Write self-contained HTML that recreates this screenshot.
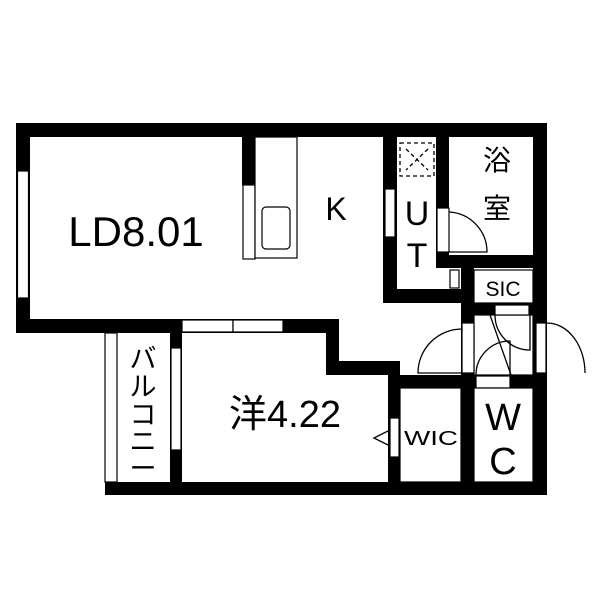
<!DOCTYPE html>
<html><head><meta charset="utf-8"><style>
html,body{margin:0;padding:0;background:#fff;width:600px;height:600px;overflow:hidden}
svg{display:block}
text{font-family:"Liberation Sans","Noto Sans CJK JP",sans-serif;fill:#000}
</style></head><body>
<svg width="600" height="600" viewBox="0 0 600 600" xmlns="http://www.w3.org/2000/svg">
<g fill="#000">
<rect x="16" y="123" width="531" height="14"/>
<rect x="16" y="123" width="14" height="210"/>
<rect x="16" y="319" width="323" height="14"/>
<rect x="326" y="319" width="13" height="56"/>
<rect x="326" y="361" width="74" height="14"/>
<rect x="388" y="361" width="12" height="130"/>
<rect x="242" y="123" width="13" height="62"/>
<rect x="533" y="123" width="14" height="372"/>
<rect x="383" y="123" width="14" height="180"/>
<rect x="383" y="289" width="91" height="14"/>
<rect x="436" y="123" width="13" height="145"/>
<rect x="436" y="255" width="110" height="13"/>
<rect x="461" y="255" width="13" height="236"/>
<rect x="461" y="303" width="72" height="12"/>
<rect x="400" y="375" width="147" height="13"/>
<rect x="105" y="482" width="442" height="13"/>
<rect x="170" y="333" width="12" height="155"/>
</g>
<g fill="#fff" stroke="#000" stroke-width="1.2">
<rect x="17.5" y="171" width="11" height="127"/>
<rect x="243" y="185" width="12" height="74"/>
<rect x="255" y="137" width="42" height="121"/>
<rect x="262" y="207" width="28" height="42" rx="4"/>
<rect x="182" y="320" width="51" height="12"/>
<rect x="233" y="320" width="50" height="12"/>
<rect x="105" y="333" width="12" height="149"/>
<rect x="171" y="348" width="10" height="102"/>
<rect x="385" y="189" width="10" height="48"/>
<rect x="437" y="208" width="12" height="44"/>
<rect x="450" y="270" width="9" height="18"/>
<rect x="474" y="270" width="59" height="33"/>
<rect x="474" y="315" width="59" height="60"/>
<rect x="462" y="323" width="12" height="50"/>
<rect x="536" y="323" width="10" height="50"/>
<rect x="495" y="305" width="34" height="10"/>
<rect x="476" y="376" width="34" height="12"/>
<rect x="400" y="388" width="61" height="94"/>
<rect x="474" y="388" width="59" height="94"/>
<rect x="390" y="418" width="9" height="39"/>
</g>
<g fill="none" stroke="#000" stroke-width="1.3">
<rect x="400" y="143" width="34" height="33" stroke-dasharray="4,3"/>
<line x1="406" y1="149" x2="428" y2="170" stroke-dasharray="4,3"/>
<line x1="428" y1="149" x2="406" y2="170" stroke-dasharray="4,3"/>
<path d="M449 212 A40 40 0 0 1 487 252 L449 252"/>
<path d="M462 329 A44 44 0 0 0 418 373 L462 373"/>
<path d="M547 323 A38 50 0 0 1 585 373"/>
<path d="M495 315 A35 35 0 0 0 530 350 L530 315"/>
<path d="M476 375 A34 34 0 0 1 510 341 L510 376"/>
<line x1="490" y1="315" x2="511" y2="375"/>
<path d="M388 431 L374 438 L388 445"/>
</g>
<text x="136" y="246" font-size="42" text-anchor="middle">LD8.01</text>
<text x="336" y="220" font-size="32" text-anchor="middle">K</text>
<text x="417" y="225" font-size="34" text-anchor="middle">U</text>
<text x="417" y="267" font-size="34" text-anchor="middle">T</text>
<text x="497" y="170" font-size="28" text-anchor="middle">浴</text>
<text x="497" y="218" font-size="28" text-anchor="middle">室</text>
<text x="503" y="296" font-size="21" text-anchor="middle">SIC</text>
<text x="431" y="445" font-size="20" text-anchor="middle" textLength="54" lengthAdjust="spacingAndGlyphs">WIC</text>
<text x="503" y="430" font-size="38" text-anchor="middle">W</text>
<text x="503" y="474" font-size="38" text-anchor="middle">C</text>
<text x="285" y="427" font-size="38" text-anchor="middle">洋4.22</text>
<g font-size="27">
<text x="143" y="368" text-anchor="middle">バ</text>
<text x="143" y="396" text-anchor="middle">ル</text>
<text x="143" y="424" text-anchor="middle">コ</text>
<text x="143" y="451" text-anchor="middle">ニ</text>
<text x="143" y="478" text-anchor="middle">ー</text>
</g>
</svg>
</body></html>
